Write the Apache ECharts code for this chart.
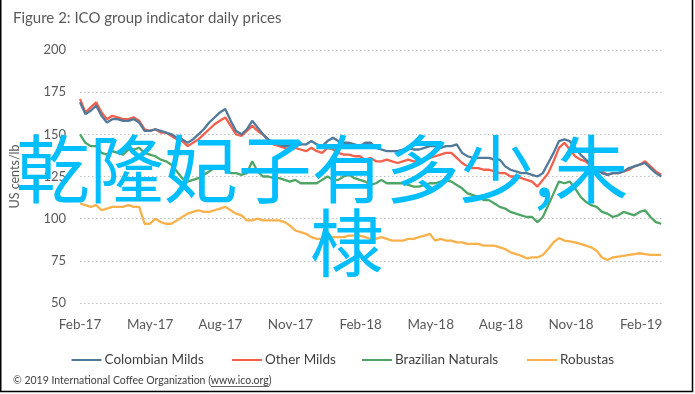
<!DOCTYPE html>
<html>
<head>
<meta charset="utf-8">
<script src="https://cdn.jsdelivr.net/npm/echarts@6/dist/echarts.min.js"></script>
<style>
html,body{margin:0;padding:0;background:#fff;}
#chart{width:695px;height:394px;}
</style>
</head>
<body>
<div id="chart"></div>
<script>
// ---- data (US cents/lb), one value per week starting 1 Feb 2017 ----
const startDate = '2017-02-01';
const weekCount = 109;
const seriesNames = ['Colombian Milds', 'Other Milds', 'Brazilian Naturals', 'Robustas'];
const seriesColors = ['#51799A', '#F2604C', '#4EA566', '#F9B14B'];
const yTicks = [50, 75, 100, 125, 150, 175, 200];
const xTickLabels = ['Feb-17','May-17','Aug-17','Nov-17','Feb-18','May-18','Aug-18','Nov-18','Feb-19'];

const colombianMilds = [169,162,164,167,161,157,159,159,158,158,159,157,152,152,153,152,151,150,148,147,
  145,147,150,153,157,160,163,165,158,152,150,153,158,154,150,147,145,144,143,143,
  143,144,144,146,144,143,146,148,146,145,145,144,143,145,145,142,141,140,140,140,
  141,142,141,141,142,143,143,142,143,143,144,139,137,136,136,136,136,135,135,131,
  129,128,127,127,126,125,127,133,139,146,147,146,142,138,135,132,129,127,126,127,
  127,128,130,131,132,133,130,127,125];
const otherMilds = [171,163,166,169,163,159,161,160,159,159,160,158,153,152,153,151,151,149,147,146,
  143,145,147,150,153,156,158,160,155,150,149,152,155,152,150,146,144,143,142,141,
  142,141,140,142,140,139,142,141,139,138,138,137,137,135,136,134,134,135,134,133,
  134,135,134,134,135,136,137,138,139,139,136,133,131,130,130,129,129,128,127,127,
  125,125,124,123,122,119,123,127,134,142,145,141,137,135,134,131,129,128,126,127,
  127,128,129,131,132,134,131,128,126];
const brazilianNaturals = [150,145,143,143,139,138,140,139,138,141,141,142,139,138,137,135,134,132,128,124,
  122,123,124,126,128,130,131,129,127,127,126,127,134,128,125,125,124,124,123,122,
  123,121,121,121,121,123,125,123,123,125,126,124,123,122,120,121,123,121,121,121,
  121,120,119,119,120,121,121,122,123,122,120,118,115,114,113,111,111,109,107,106,
  104,103,102,101,101,98,101,108,115,122,121,122,118,113,110,108,107,104,103,101,
  102,104,103,102,104,105,101,98,97];
const robustas = [109,108,107,108,105,106,107,107,107,108,107,107,97,97,100,98,97,97,99,101,
  103,104,105,104,104,105,106,107,105,103,102,99,99,100,99,99,99,99,98,96,
  93,92,91,89,88,88,88,89,89,89,90,90,90,89,88,88,89,88,87,87,
  87,88,88,89,90,91,87,88,87,87,86,86,85,85,85,84,84,84,83,82,
  80,79,78,76.5,77,77,78.5,82,86,88.5,87,86.5,86,85,84,83,81,77,75.5,77,
  77.5,78,78.5,79,79.5,79,78.5,78.5,78.5];

const seriesValues = [colombianMilds, otherMilds, brazilianNaturals, robustas];

// ---- build ----
const DAY = 86400000;
const t0 = Date.parse(startDate + 'T00:00:00Z');
const weekDays = [];
for (let i = 0; i < weekCount; i++) weekDays.push(i * 7);
const xMax = Math.round((Date.parse('2019-02-28T00:00:00Z') - t0) / DAY);

const monthNames = ['Jan','Feb','Mar','Apr','May','Jun','Jul','Aug','Sep','Oct','Nov','Dec'];
function dayToLabel(v) {
  const d = new Date(t0 + v * DAY);
  let y = d.getUTCFullYear(), m = d.getUTCMonth();
  if (d.getUTCDate() > 15) { m++; if (m > 11) { m = 0; y++; } }
  const lab = monthNames[m] + '-' + String(y).slice(2);
  return xTickLabels.indexOf(lab) >= 0 ? lab : '';
}

const FONT = 'Lato, "Open Sans", sans-serif';
const chart = echarts.init(document.getElementById('chart'), null, {renderer: 'canvas'});

// footer measurement for underline
const cv = document.createElement('canvas').getContext('2d');
const footFont = '10.5px Lato';
cv.font = footFont;
const footPre = '\u00A9 2019 International Coffee Organization (';
const footLink = 'www.ico.org';
const preW = cv.measureText(footPre).width;
const linkW = cv.measureText(footLink).width;

const legendLefts = [66.5, 227, 357, 522];

chart.setOption({
  animation: false,
  backgroundColor: '#ffffff',
  title: {
    text: 'Figure 2: ICO group indicator daily prices',
    left: 8, top: 6,
    textStyle: {fontFamily: FONT, fontSize: 15, fontWeight: 'normal', color: '#595959'}
  },
  grid: {left: 78, right: 33, top: 50, bottom: 91, containLabel: false},
  legend: seriesNames.map((n, k) => ({
    left: legendLefts[k], top: 348,
    icon: 'rect', itemWidth: 30, itemHeight: 2,
    textStyle: {fontFamily: FONT, fontSize: 13.5, color: '#404040', padding: [0,0,0,-2]},
    data: [n]
  })),
  xAxis: {
    type: 'value', min: 0, max: xMax, interval: 91.25,
    axisLine: {show: false}, axisTick: {show: false}, splitLine: {show: false},
    axisLabel: {
      margin: 15, fontFamily: FONT, fontSize: 13.5, color: '#595959',
      showMaxLabel: false, formatter: dayToLabel
    }
  },
  yAxis: {
    type: 'value', min: yTicks[0], max: yTicks[yTicks.length - 1], interval: 25,
    name: 'US cents/lb', nameLocation: 'middle', nameGap: 59, nameRotate: 90,
    nameTextStyle: {fontFamily: FONT, fontSize: 12.5, color: '#595959'},
    axisLine: {show: false}, axisTick: {show: false},
    axisLabel: {margin: 14, fontFamily: FONT, fontSize: 13, color: '#595959'},
    splitLine: {show: true, lineStyle: {type: [1.5, 2.5], color: '#BFBFBF', width: 1.2}}
  },
  series: seriesNames.map((n, k) => ({
    name: n, type: 'line', showSymbol: false, symbol: 'none',
    data: weekDays.map((d, i) => [d, seriesValues[k][i]]),
    lineStyle: {color: seriesColors[k], width: 2.3},
    itemStyle: {color: seriesColors[k]},
    z: 2 + (3 - k)
  })),
  graphic: [
    {type: 'polyline', z: 50, shape: {points: [[0.75, -2], [0.75, 391.5], [692.5, 391.5], [692.5, -2]]},
     style: {stroke: '#000', lineWidth: 1.5, fill: null}},
    {type: 'text', z: 50, left: 13, top: 375,
     style: {text: footPre + footLink + ')', font: footFont, fill: '#404040'}},
    {type: 'line', z: 50, shape: {x1: 13 + preW, y1: 386.5, x2: 13 + preW + linkW, y2: 386.5},
     style: {stroke: '#404040', lineWidth: 0.8}},
    {type: 'text', z: 100, x: 322, y: 169,
     style: {text: '乾隆妃子有多少,朱', font: '74px "Noto Sans CJK SC"', fill: '#00BEFF',
             textAlign: 'center', textVerticalAlign: 'middle'}},
    {type: 'text', z: 100, x: 347, y: 243,
     style: {text: '棣', font: '74px "Noto Sans CJK SC"', fill: '#00BEFF',
             textAlign: 'center', textVerticalAlign: 'middle'}}
  ]
});
</script>
</body>
</html>
